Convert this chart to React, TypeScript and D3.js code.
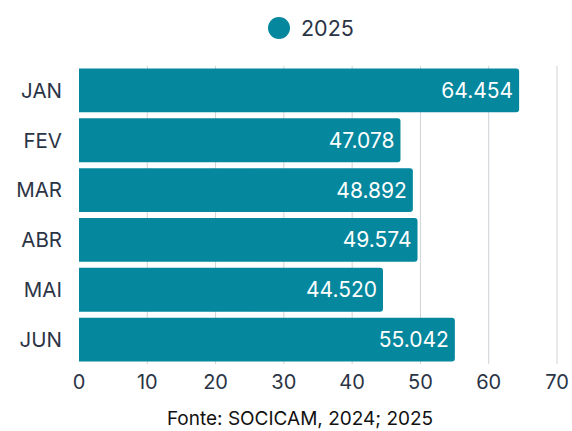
import React from "react";
import * as d3 from "d3";

const categories = ["JAN", "FEV", "MAR", "ABR", "MAI", "JUN"];
const values = [64.454, 47.078, 48.892, 49.574, 44.52, 55.042];
const valueLabels = ["64.454", "47.078", "48.892", "49.574", "44.520", "55.042"];
const xTicks = [0, 10, 20, 30, 40, 50, 60, 70];
const seriesName = "2025";
const caption = "Fonte: SOCICAM, 2024; 2025";

const W = 572;
const H = 431;
const color = "#05879E";
const textColor = "#2B3445";
const font = "Inter, 'Noto Sans', sans-serif";

export default function App() {
  const x = d3.scaleLinear().domain([0, 70]).range([79, 557]);
  const y = d3.scaleBand().domain(categories).range([66, 364]).paddingInner(0.12).paddingOuter(0.05);
  const r = 3;
  const barPath = (v: number, c: string) => {
    const x0 = x(0);
    const x1 = x(v);
    const y0 = y(c)!;
    const h = y.bandwidth();
    return `M${x0},${y0} H${x1 - r} Q${x1},${y0} ${x1},${y0 + r} V${y0 + h - r} Q${x1},${y0 + h} ${x1 - r},${y0 + h} H${x0} Z`;
  };
  return (
    <svg width={W} height={H} style={{ position: "absolute", left: 0, top: 0, background: "#fff" }} fontFamily={font}>
      <circle cx={279} cy={28} r={11} fill={color} />
      <text x={301} y={28} dy="0.35em" fontSize={21.5} fill={textColor}>{seriesName}</text>
      {xTicks.slice(1).map((t) => (
        <line key={t} x1={x(t)} x2={x(t)} y1={66} y2={364} stroke="#CFD2D6" strokeWidth={1} />
      ))}
      {categories.map((c, i) => (
        <g key={c}>
          <path d={barPath(values[i], c)} fill={color} />
          <text x={x(values[i]) - 6} y={y(c)! + y.bandwidth() / 2} dy="0.36em" textAnchor="end" fontSize={21} fill="#fff">
            {valueLabels[i]}
          </text>
          <text x={62} y={y(c)! + y.bandwidth() / 2} dy="0.36em" textAnchor="end" fontSize={20.5} fill={textColor}>
            {c}
          </text>
        </g>
      ))}
      {xTicks.map((t) => (
        <text key={t} x={x(t)} y={382} dy="0.36em" textAnchor="middle" fontSize={20} fill={textColor}>
          {t}
        </text>
      ))}
      <text x={300} y={418} dy="0.36em" textAnchor="middle" fontSize={19} fill="#111">{caption}</text>
    </svg>
  );
}
